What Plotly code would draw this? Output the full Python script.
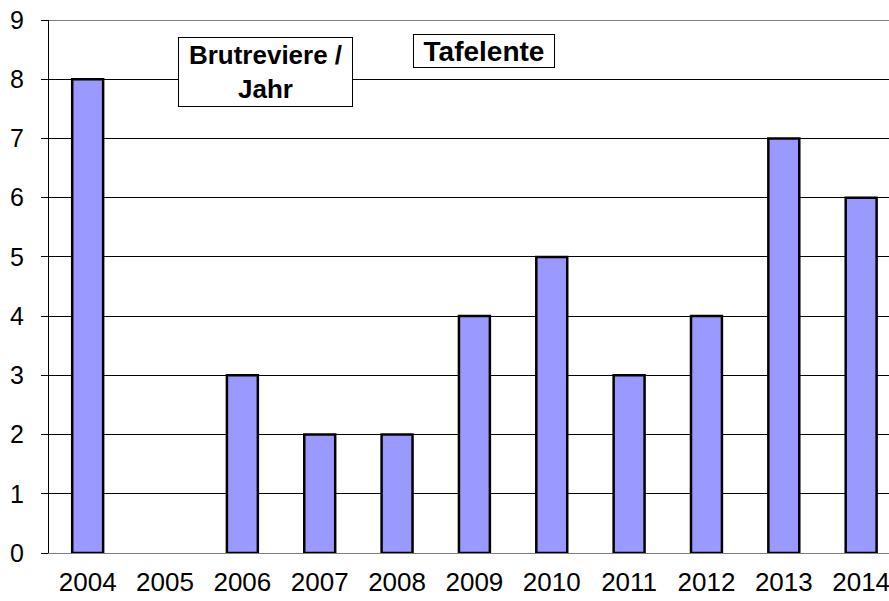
import plotly.graph_objects as go

years = ['2004', '2005', '2006', '2007', '2008', '2009', '2010', '2011', '2012', '2013', '2014']
brutreviere = [8, 0, 3, 2, 2, 4, 5, 3, 4, 7, 6]
y_ticks = [0, 1, 2, 3, 4, 5, 6, 7, 8, 9]

FONT = 'Liberation Sans, Arial, sans-serif'


def main():
    # empty years get no outline
    outline = [2.5 if v else 0 for v in brutreviere]

    fig = go.Figure()
    fig.add_trace(go.Bar(
        x=years,
        y=brutreviere,
        width=0.4,
        marker=dict(color='#9999FF', line=dict(color='black', width=outline)),
        showlegend=False,
    ))

    fig.update_layout(
        width=889,
        height=601,
        margin=dict(l=49, r=0, t=20, b=48),
        paper_bgcolor='white',
        plot_bgcolor='white',
        font=dict(family=FONT, size=25, color='black'),
        xaxis=dict(
            type='category',
            range=[-0.5, 10.36],
            showgrid=False,
            showline=True,
            linecolor='#808080',
            linewidth=1,
            ticks='',
            ticklabelstandoff=6,
            tickfont=dict(size=26),
        ),
        yaxis=dict(
            range=[0, 9],
            tickvals=y_ticks,
            showgrid=True,
            gridcolor='black',
            gridwidth=1,
            showline=True,
            linecolor='black',
            linewidth=1,
            ticks='outside',
            ticklen=7,
            tickcolor='black',
            ticklabelstandoff=12,
            zeroline=False,
            tickfont=dict(size=25),
        ),
        shapes=[dict(type='line', xref='paper', yref='y', x0=0, x1=1, y0=9, y1=9,
                     line=dict(color='#808080', width=2), layer='above')],
        annotations=[
            dict(text='<b>Brutreviere /<br>Jahr</b>', xref='paper', yref='paper',
                 x=(265 - 49) / 840, y=(553 - 72) / 533, xanchor='center', yanchor='middle',
                 showarrow=False, bgcolor='white', width=173, height=68,
                 bordercolor='black', borderwidth=1, borderpad=0,
                 font=dict(size=26)),
            dict(text='<b>Tafelente</b>', xref='paper', yref='paper',
                 x=(484 - 49) / 840, y=(553 - 51) / 533, xanchor='center', yanchor='middle',
                 showarrow=False, bgcolor='white', width=140, height=32,
                 bordercolor='black', borderwidth=1, borderpad=0,
                 font=dict(size=28)),
        ],
    )

    fig.write_html('out.html', config={'displayModeBar': False},
                   post_script="document.body.style.margin='0';")


if __name__ == '__main__':
    main()
